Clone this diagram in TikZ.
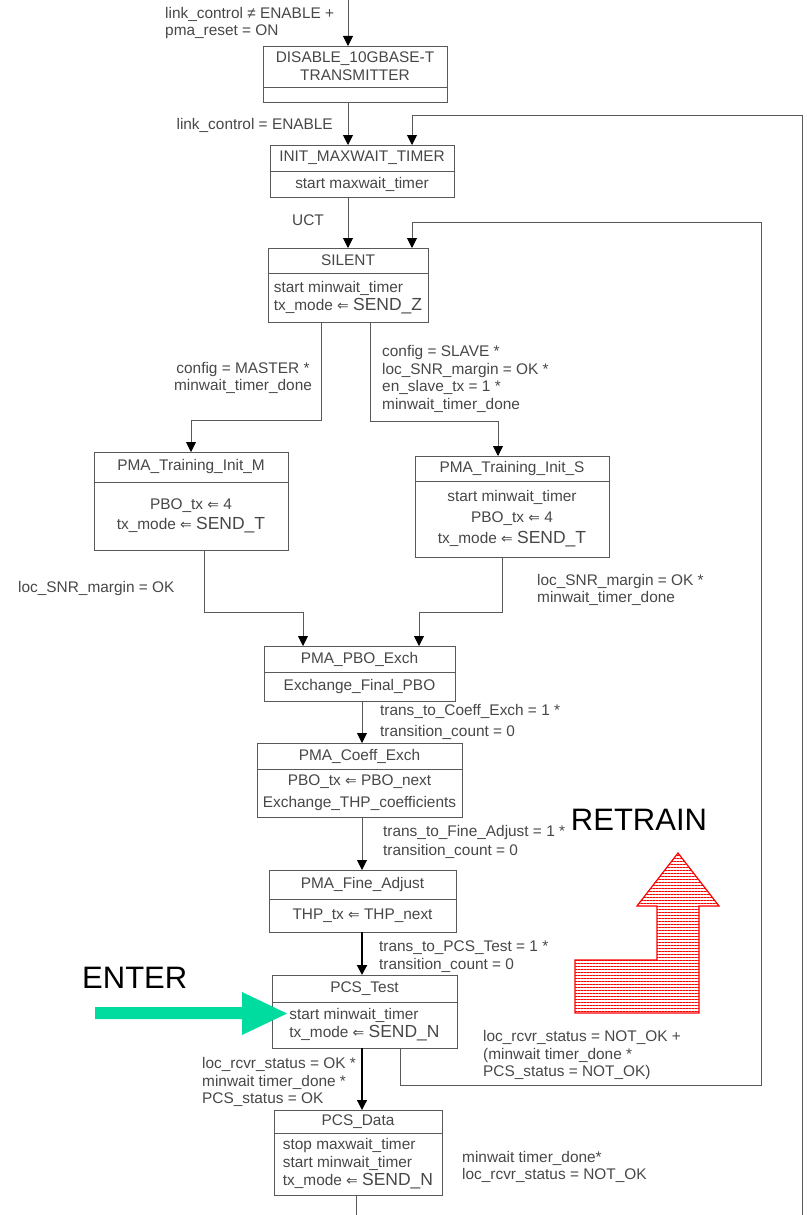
\documentclass[tikz,border=0pt]{standalone}
\usepackage{fontspec}
\setmainfont{Liberation Sans}
\newfontfamily\symfont[Scale=0.9]{DejaVu Sans}
\usetikzlibrary{positioning,arrows.meta,patterns.meta}

\newcommand{\asg}{{\symfont ⇐}}
\newcommand{\sendto}[1]{{\fontsize{17.5}{18}\selectfont #1}}

\colorlet{linecol}{black!65}
\colorlet{txtcol}{black!72}
\definecolor{entercol}{RGB}{0,220,160}
\colorlet{retraincol}{red}

\tikzset{
  stbox/.style={draw=linecol, line width=0.9pt, inner sep=2pt, outer sep=0pt,
                text=txtcol, font=\fontsize{15.4}{18}\selectfont},
  sttitle/.style={stbox, align=center},
  stbody/.style={stbox, align=center},
  stbodyl/.style={stbox, align=left},
  flow/.style={draw=linecol, line width=0.9pt,
               -{Triangle[length=10pt,width=10pt,color=black]}},
  cond/.style={inner sep=0pt, text=txtcol, align=left,
               font=\fontsize{15.4}{17.5}\selectfont},
  bigword/.style={inner sep=0pt, text=black, font=\fontsize{31}{36}\selectfont},
}

\begin{document}
\begin{tikzpicture}[x=1pt, y=-1pt]
  \useasboundingbox (0,0) rectangle (806,1215);

  % ======== STATES ========
  \node[sttitle, minimum width=184, minimum height=41] (dis) at (355,66.5)
    {DISABLE\_10GBASE-T\\TRANSMITTER};
  \node[stbody, minimum width=184, minimum height=15, below=0pt of dis] (disb) {};

  \node[sttitle, minimum width=184, minimum height=26] (init) at (362,158)
    {INIT\_MAXWAIT\_TIMER};
  \node[stbodyl, minimum width=184, minimum height=26, below=0pt of init] (initb)
    {start maxwait\_timer};

  \node[sttitle, minimum width=160, minimum height=25] (silent) at (348,260.5)
    {SILENT};
  \node[stbodyl, minimum width=160, minimum height=49, below=0pt of silent] (silentb)
    {start minwait\_timer\\tx\_mode \asg{} \sendto{SEND\_Z}};

  \node[sttitle, minimum width=194, minimum height=30] (trainM) at (191,467)
    {PMA\_Training\_Init\_M};
  \node[stbody, minimum width=194, minimum height=68, below=0pt of trainM] (trainMb)
    {PBO\_tx \asg{} 4\\[2pt]tx\_mode \asg{} \sendto{SEND\_T}};

  \node[sttitle, minimum width=194, minimum height=25] (trainS) at (512,468.5)
    {PMA\_Training\_Init\_S};
  \node[stbody, minimum width=194, minimum height=76, below=0pt of trainS] (trainSb)
    {start minwait\_timer\\[3pt]PBO\_tx \asg{} 4\\[3pt]tx\_mode \asg{} \sendto{SEND\_T}};

  \node[sttitle, minimum width=191, minimum height=26] (pbo) at (359.5,659)
    {PMA\_PBO\_Exch};
  \node[stbody, minimum width=191, minimum height=29, below=0pt of pbo] (pbob)
    {Exchange\_Final\_PBO};

  \node[sttitle, minimum width=205, minimum height=26] (coeff) at (359.5,756)
    {PMA\_Coeff\_Exch};
  \node[stbody, minimum width=205, minimum height=48, below=0pt of coeff] (coeffb)
    {PBO\_tx \asg{} PBO\_next\\[4pt]Exchange\_THP\_coefficients};

  \node[sttitle, minimum width=187, minimum height=29] (fine) at (362.5,884.5)
    {PMA\_Fine\_Adjust};
  \node[stbody, minimum width=187, minimum height=33, below=0pt of fine] (fineb)
    {THP\_tx \asg{} THP\_next};

  \node[sttitle, minimum width=185, minimum height=27] (test) at (364.5,988.5)
    {PCS\_Test};
  \node[stbodyl, minimum width=185, minimum height=46, below=0pt of test] (testb)
    {start minwait\_timer\\tx\_mode \asg{} \sendto{SEND\_N}};

  \node[sttitle, minimum width=168, minimum height=23] (data) at (358,1121.5)
    {PCS\_Data};
  \node[stbodyl, minimum width=168, minimum height=62, below=0pt of data] (datab)
    {stop maxwait\_timer\\start minwait\_timer\\tx\_mode \asg{} \sendto{SEND\_N}};

  % ======== TRANSITIONS ========
  \coordinate (entry) at (348,0);
  \draw[flow] (entry) -- (entry |- dis.north);
  \draw[flow] (entry |- disb.south) -- (entry |- init.north);
  \draw[flow] (entry |- initb.south) -- (entry |- silent.north);

  % outer return line into INIT_MAXWAIT_TIMER
  \coordinate (retrA) at (802,1215);
  \coordinate (retrAin) at (412,115);
  \draw[flow] (retrA) |- (retrAin) -- (retrAin |- init.north);

  % PCS_Test back to SILENT
  \coordinate (retrB) at (400,1085);
  \coordinate (retrBup) at (761,222);
  \coordinate (retrBin) at (412,222);
  \draw[flow] (retrB |- testb.south) -- (retrB) -| (retrBup) -- (retrBin)
    -- (retrBin |- silent.north);

  % SILENT to master / slave training
  \coordinate (mst) at (321,420);
  \coordinate (slv) at (370,421);
  \coordinate (slvin) at (498,421);
  \draw[flow] (mst |- silentb.south) -- (mst) -| (trainM.north);
  \draw[flow] (slv |- silentb.south) -- (slv) -- (slvin) -- (slvin |- trainS.north);

  % training to PBO exchange
  \coordinate (mjoin) at (204,612);
  \coordinate (mjoinin) at (303,612);
  \coordinate (sjoin) at (502,612);
  \coordinate (sjoinin) at (419,612);
  \draw[flow] (mjoin |- trainMb.south) -- (mjoin) -- (mjoinin) -- (mjoinin |- pbo.north);
  \draw[flow] (sjoin |- trainSb.south) -- (sjoin) -- (sjoinin) -- (sjoinin |- pbo.north);

  % lower spine
  \coordinate (spine) at (362,0);
  \draw[flow] (spine |- pbob.south) -- (spine |- coeff.north);
  \draw[flow] (spine |- coeffb.south) -- (spine |- fine.north);
  \draw[flow, draw=black, line width=2pt] (spine |- fineb.south) -- (spine |- test.north);
  \draw[flow, draw=black, line width=1.2pt] (spine |- testb.south) -- (spine |- data.north);
  \coordinate (exitd) at (356,1215);
  \draw[draw=linecol, line width=0.9pt] (exitd |- datab.south) -- (exitd);

  % ======== CONDITIONS ========
  \node[cond, anchor=west] (c0) at (165,23)
    {link\_control ≠ ENABLE +\\pma\_reset = ON};
  \node[cond, anchor=east] (c1) at (333,125) {link\_control = ENABLE};
  \node[cond] (c2) at (308,220) {UCT};
  \node[cond, align=center] (c3) at (243,378)
    {config = MASTER *\\minwait\_timer\_done};
  \node[cond, anchor=west] (c4) at (382,379)
    {config = SLAVE *\\loc\_SNR\_margin = OK *\\en\_slave\_tx = 1 *\\minwait\_timer\_done};
  \node[cond, anchor=west] (c5) at (18,589) {loc\_SNR\_margin = OK};
  \node[cond, anchor=west] (c6) at (537,590)
    {loc\_SNR\_margin = OK *\\minwait\_timer\_done};
  \node[cond, anchor=west] (c7) at (380,722)
    {trans\_to\_Coeff\_Exch = 1 *\\[3pt]transition\_count = 0};
  \node[cond, anchor=west] (c8) at (383,842)
    {trans\_to\_Fine\_Adjust = 1 *\\[2pt]transition\_count = 0};
  \node[cond, anchor=west] (c9) at (379,956.5)
    {trans\_to\_PCS\_Test = 1 *\\transition\_count = 0};
  \node[cond, anchor=west] (c10) at (483,1055.5)
    {loc\_rcvr\_status = NOT\_OK +\\(minwait timer\_done *\\PCS\_status = NOT\_OK)};
  \node[cond, anchor=west] (c11) at (202,1082)
    {loc\_rcvr\_status = OK *\\minwait timer\_done *\\PCS\_status = OK};
  \node[cond, anchor=west] (c12) at (462,1167)
    {minwait timer\_done*\\loc\_rcvr\_status = NOT\_OK};

  % ======== ENTER / RETRAIN marks ========
  \node[bigword, anchor=west] (enter) at (82,978) {ENTER};
  \fill[entercol] (95,1007) -- (242,1007) -- (242,992) -- (287,1013.5)
    -- (242,1035) -- (242,1019) -- (95,1019) -- cycle;

  \node[bigword] (retrain) at (639,820) {RETRAIN};
  \draw[retraincol, line width=1.2pt,
        pattern={Lines[angle=0,distance=3pt,line width=0.7pt]}, pattern color=retraincol]
    (575,1013) -- (699,1013) -- (699,906) -- (719,906) -- (678,853)
    -- (637,906) -- (657,906) -- (657,960) -- (575,960) -- cycle;
\end{tikzpicture}
\end{document}
